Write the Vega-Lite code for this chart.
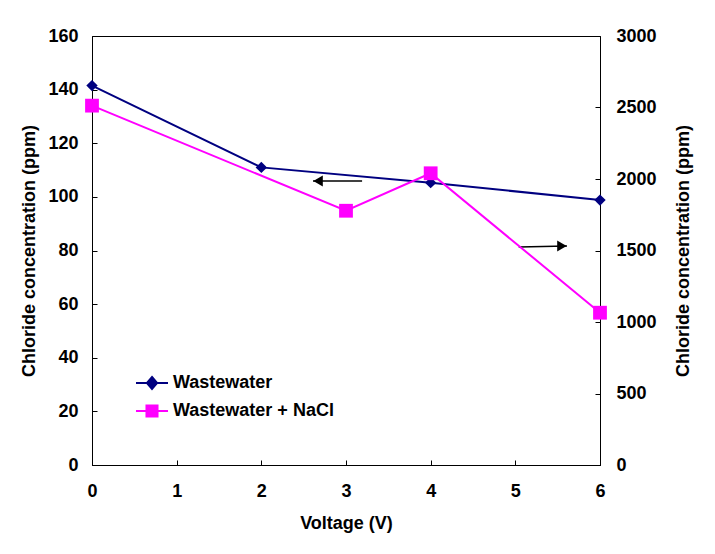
{
  "$schema": "https://vega.github.io/schema/vega-lite/v6.json",
  "width": 508,
  "height": 429,
  "autosize": {"type": "none"},
  "padding": {"left": 92, "top": 36, "right": 115, "bottom": 89},
  "background": "white",
  "config": {
    "font": "Liberation Sans",
    "view": {"stroke": "black", "strokeWidth": 1},
    "axis": {
      "grid": false,
      "domainColor": "black",
      "tickColor": "black",
      "labelColor": "black",
      "titleColor": "black",
      "labelFont": "Liberation Sans",
      "titleFont": "Liberation Sans",
      "labelFontSize": 18,
      "titleFontSize": 18,
      "labelFontWeight": "bold",
      "titleFontWeight": "bold",
      "tickSize": -5,
      "domainWidth": 1,
      "tickWidth": 1,
      "labelFlush": false,
      "format": "d"
    },
    "legend": {
      "labelFont": "Liberation Sans",
      "labelFontSize": 18,
      "labelFontWeight": "bold",
      "labelColor": "black",
      "labelLimit": 400
    }
  },
  "datasets": {
    "series": [
      {"voltage": 0, "chloride": 141.5, "series": "Wastewater"},
      {"voltage": 2, "chloride": 111.0, "series": "Wastewater"},
      {"voltage": 4, "chloride": 105.3, "series": "Wastewater"},
      {"voltage": 6, "chloride": 98.8, "series": "Wastewater"},
      {"voltage": 0, "chloride": 2513, "series": "Wastewater + NaCl"},
      {"voltage": 3, "chloride": 1778, "series": "Wastewater + NaCl"},
      {"voltage": 4, "chloride": 2040, "series": "Wastewater + NaCl"},
      {"voltage": 6, "chloride": 1065, "series": "Wastewater + NaCl"}
    ],
    "arrows": [
      {"x": 2.61, "y": 105.9, "x2": 3.19, "y2": 105.9, "hx": 2.67, "hy": 105.9, "dir": "left"},
      {"x": 5.04, "y": 81.3, "x2": 5.61, "y2": 81.7, "hx": 5.55, "hy": 81.65, "dir": "right"}
    ]
  },
  "layer": [
    {
      "layer": [
        {
          "data": {"name": "series"},
          "transform": [{"filter": "datum.series === 'Wastewater'"}],
          "mark": {"type": "line", "strokeWidth": 2},
          "encoding": {
            "x": {
              "field": "voltage", "type": "quantitative",
              "scale": {"domain": [0, 6], "nice": false},
              "axis": {"values": [0, 1, 2, 3, 4, 5, 6], "title": "Voltage (V)", "labelPadding": 22, "titlePadding": 14}
            },
            "y": {
              "field": "chloride", "type": "quantitative",
              "scale": {"domain": [0, 160], "nice": false},
              "axis": {"orient": "left", "values": [0, 20, 40, 60, 80, 100, 120, 140, 160], "title": "Chloride concentration (ppm)", "labelPadding": 19, "titlePadding": 9}
            },
            "color": {
              "field": "series", "type": "nominal",
              "scale": {"domain": ["Wastewater", "Wastewater + NaCl"], "range": ["#000080", "#FF00FF"]},
              "legend": {
                "title": null,
                "orient": "none",
                "legendX": 51,
                "legendY": 338,
                "padding": 0,
                "symbolSize": 144,
                "symbolStrokeWidth": 2,
                "labelOffset": 12,
                "rowPadding": 8,
                "encode": {
                  "symbols": {
                    "update": {
                      "shape": {"signal": "datum.value === 'Wastewater' ? 'M-2.67,0H2.67M0,-1L0.85,0L0,1L-0.85,0Z' : 'M-2.67,0H2.67M-0.92,-0.92H0.92V0.92H-0.92Z'"},
                      "fill": {"signal": "datum.value === 'Wastewater' ? '#000080' : '#FF00FF'"},
                      "stroke": {"signal": "datum.value === 'Wastewater' ? '#000080' : '#FF00FF'"},
                      "fillOpacity": {"value": 1},
                      "strokeWidth": {"value": 2}
                    }
                  }
                }
              }
            }
          }
        },
        {
          "data": {"name": "series"},
          "transform": [{"filter": "datum.series === 'Wastewater'"}],
          "mark": {"type": "point", "shape": "diamond", "filled": true, "size": 130, "opacity": 1},
          "encoding": {
            "x": {"field": "voltage", "type": "quantitative"},
            "y": {"field": "chloride", "type": "quantitative"},
            "color": {"field": "series", "type": "nominal"}
          }
        },
        {
          "data": {"name": "arrows"},
          "mark": {"type": "rule", "color": "black", "strokeWidth": 1.5},
          "encoding": {
            "x": {"field": "x", "type": "quantitative"},
            "x2": {"field": "x2"},
            "y": {"field": "y", "type": "quantitative"},
            "y2": {"field": "y2"}
          }
        },
        {
          "data": {"name": "arrows"},
          "mark": {"type": "point", "filled": true, "color": "black", "size": 120, "opacity": 1},
          "encoding": {
            "x": {"field": "hx", "type": "quantitative"},
            "y": {"field": "hy", "type": "quantitative"},
            "shape": {
              "field": "dir", "type": "nominal",
              "scale": {"domain": ["left", "right"], "range": ["triangle-left", "triangle-right"]},
              "legend": null
            }
          }
        }
      ]
    },
    {
      "layer": [
        {
          "data": {"name": "series"},
          "transform": [{"filter": "datum.series === 'Wastewater + NaCl'"}],
          "mark": {"type": "line", "strokeWidth": 2},
          "encoding": {
            "x": {"field": "voltage", "type": "quantitative"},
            "y": {
              "field": "chloride", "type": "quantitative",
              "scale": {"domain": [0, 3000], "nice": false},
              "axis": {"orient": "right", "values": [0, 500, 1000, 1500, 2000, 2500, 3000], "title": "Chloride concentration (ppm)", "labelPadding": 21, "titlePadding": 18, "titleAngle": 270, "titleBaseline": "top"}
            },
            "color": {"field": "series", "type": "nominal"}
          }
        },
        {
          "data": {"name": "series"},
          "transform": [{"filter": "datum.series === 'Wastewater + NaCl'"}],
          "mark": {"type": "point", "shape": "square", "filled": true, "size": 190, "opacity": 1},
          "encoding": {
            "x": {"field": "voltage", "type": "quantitative"},
            "y": {"field": "chloride", "type": "quantitative"},
            "color": {"field": "series", "type": "nominal"}
          }
        }
      ]
    }
  ],
  "resolve": {"scale": {"y": "independent"}}
}
